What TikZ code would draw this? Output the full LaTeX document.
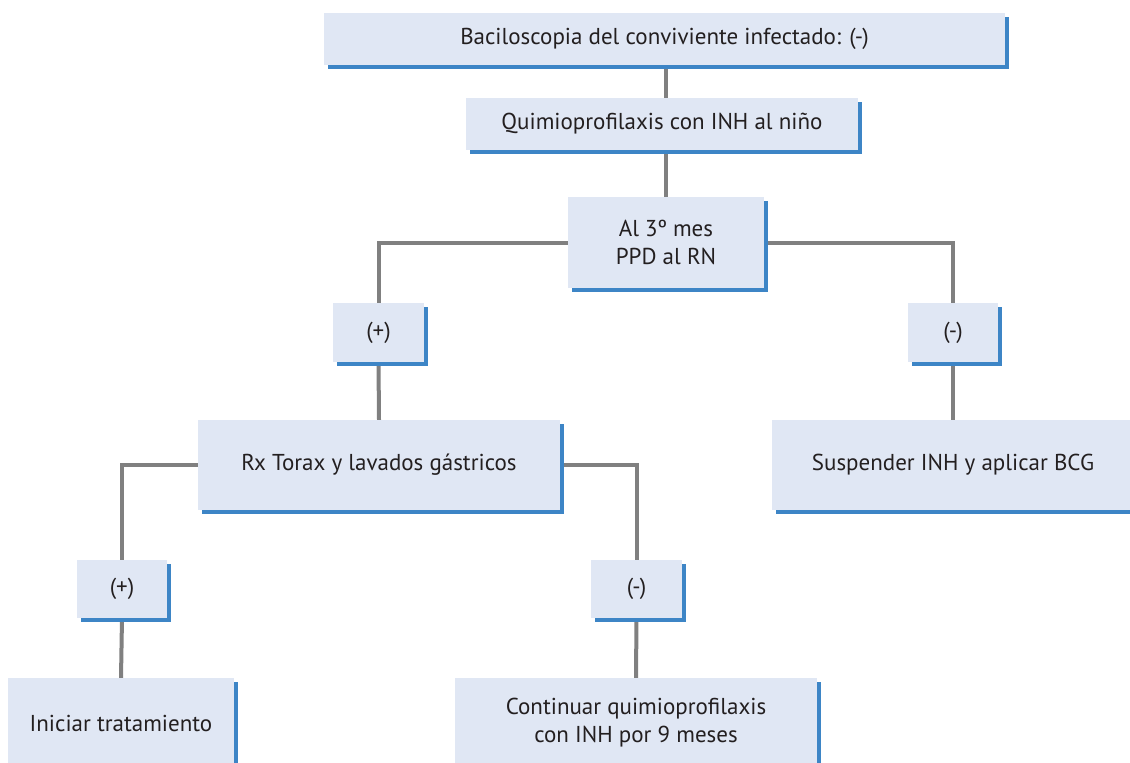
\documentclass[tikz,border=0pt]{standalone}
\usepackage{fontspec}
\setmainfont{PT Sans}
\usetikzlibrary{shadows,backgrounds}
\definecolor{boxfill}{HTML}{E0E7F4}
\definecolor{boxshade}{HTML}{3D85C6}
\definecolor{linkgray}{HTML}{808080}
\definecolor{ink}{HTML}{231F20}
\begin{document}
\begin{tikzpicture}[x=1pt,y=-1pt,
  card/.style={fill=boxfill, draw=none, inner sep=0pt, align=center,
    font=\fontsize{23}{28}\selectfont, text=ink,
    drop shadow={shadow xshift=4pt, shadow yshift=-4pt, fill=boxshade, opacity=1}},
  link/.style={draw=linkgray, line width=4pt}]
\useasboundingbox (0,0) rectangle (1130,763);

% boxes, given by their centres and sizes in picture units
\node[card, minimum width=681, minimum height=52] (bac) at (664.5,39) {Baciloscopia del conviviente infectado: (-)};
\node[card, minimum width=392, minimum height=52] (qui) at (662,124) {Quimioprofilaxis con INH al niño};
\node[card, minimum width=196, minimum height=91] (mes) at (666,242.5) {Al 3º mes\\PPD al RN};
\node[card, minimum width=91, minimum height=59] (pos) at (378.5,332.5) {(+)};
\node[card, minimum width=90, minimum height=59] (neg) at (953,332.5) {(-)};
\node[card, minimum width=362, minimum height=90] (rx) at (379,465) {Rx Torax y lavados gástricos};
\node[card, minimum width=362, minimum height=90] (sus) at (953,465) {Suspender INH y aplicar BCG};
\node[card, minimum width=90, minimum height=58] (pos2) at (122,589) {(+)};
\node[card, minimum width=91, minimum height=58] (neg2) at (636.5,589) {(-)};
\node[card, minimum width=226, minimum height=90] (ini) at (121,723) {Iniciar tratamiento};
\node[card, minimum width=362, minimum height=90] (con) at (636,723) {Continuar quimioprofilaxis\\con INH por 9 meses};

% connectors, behind the boxes
\begin{scope}[on background layer]
\draw[link] (bac.south -| mes.north) -- (mes.north);
\draw[link] (mes.west) -| (pos.north);
\draw[link] (mes.east) -| (neg.north);
\draw[link] (pos.south) -- (rx.north);
\draw[link] (neg.south) -- (sus.north);
\draw[link] (rx.west) -| (pos2.north);
\draw[link] (rx.east) -| (neg2.north);
\draw[link] (pos2.south) -- (ini.north);
\draw[link] (neg2.south) -- (con.north);
\end{scope}
\end{tikzpicture}
\end{document}
